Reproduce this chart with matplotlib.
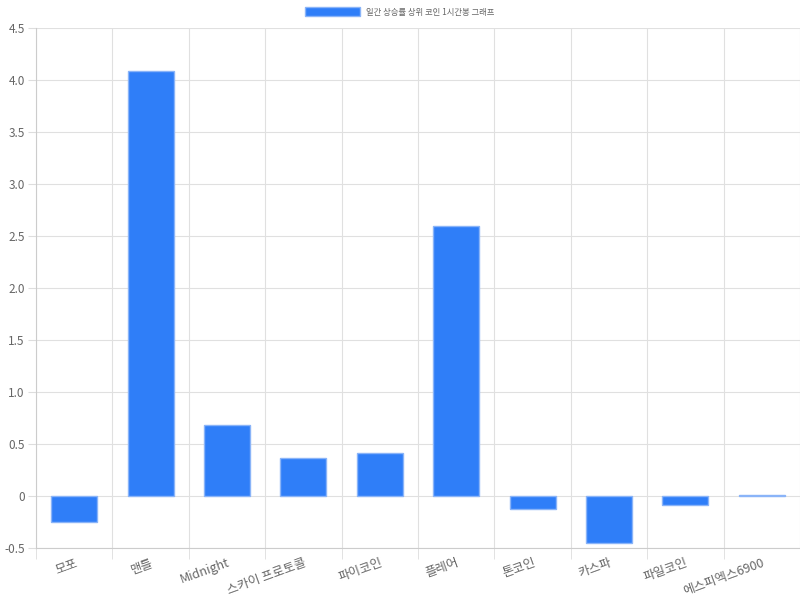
import matplotlib.pyplot as plt
import numpy as np

plt.rcParams['font.family'] = ['Noto Sans CJK KR', 'DejaVu Sans']

coins = ['모포', '맨틀', 'Midnight', '스카이 프로토콜', '파이코인',
         '플레어', '톤코인', '카스파', '파일코인', '에스피엑스6900']
changes = [-0.25, 4.09, 0.68, 0.365, 0.41, 2.60, -0.125, -0.45, -0.085, 0.01]
legend_label = '일간 상승률 상위 코인 1시간봉 그래프'

fig = plt.figure(figsize=(8, 6), dpi=100)
ax = fig.add_axes([0.045, 0.0867, 0.955, 0.8666])

x = np.arange(len(coins))
ax.bar(x, changes, width=0.6, color='#2f7ef8', edgecolor='#8ab4f8',
       linewidth=1, label=legend_label, zorder=3)

ax.set_xlim(-0.5, len(coins) - 0.5)
ax.set_ylim(-0.5, 4.5)
ax.set_yticks(np.arange(-0.5, 4.51, 0.5))
ax.set_yticklabels(['-0.5', '0'] + ['%.1f' % v for v in np.arange(0.5, 4.51, 0.5)])

ax.set_xticks(x)
ax.set_xticklabels(coins, rotation=20, ha='right', rotation_mode='anchor')
ax.set_xticks(np.arange(-0.5, len(coins), 1), minor=True)
ax.tick_params(axis='x', which='major', length=0, pad=6, labelsize=9, labelcolor='#666666')
ax.tick_params(axis='x', which='minor', length=8, color='#dddddd')
ax.tick_params(axis='y', length=6, pad=2, color='#dddddd', labelsize=8.5, labelcolor='#666666')

ax.grid(True, axis='y', color='#e0e0e0', linewidth=0.8, zorder=0)
ax.grid(True, axis='x', which='minor', color='#e0e0e0', linewidth=0.8, zorder=0)

for side in ['top', 'right']:
    ax.spines[side].set_visible(False)
for side in ['left', 'bottom']:
    ax.spines[side].set_color('#cccccc')

fig.legend(loc='upper center', bbox_to_anchor=(0.5, 1.0), frameon=False,
           fontsize=6, handlelength=6.5, handleheight=1.2, labelcolor='#666666')

fig.savefig('out.png')
